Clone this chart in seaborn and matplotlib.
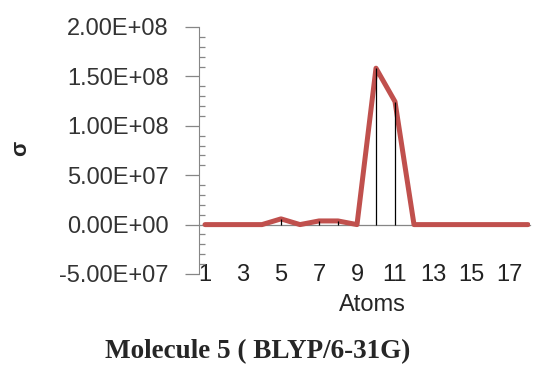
import numpy as np
import pandas as pd
import seaborn as sns
import matplotlib.pyplot as plt
from matplotlib.ticker import MultipleLocator

# data
atoms = list(range(1, 19))
sigma = [0, 0, 0, 0, 5.8e6, 0, 3.7e6, 3.7e6, 0,
         1.583e8, 1.245e8, 0, 0, 0, 0, 0, 0, 0]
y_ticks = [-5e7, 0, 5e7, 1e8, 1.5e8, 2e8]
y_tick_labels = ["-5.00E+07", "0.00E+00", "5.00E+07", "1.00E+08", "1.50E+08", "2.00E+08"]
x_tick_values = atoms[::2]

df = pd.DataFrame({"Atoms": atoms, "sigma": sigma})

sns.set_style("white")
plt.rcParams["font.family"] = ["Liberation Sans", "DejaVu Sans"]

fig = plt.figure(figsize=(5.34, 3.68), dpi=100)
ax = fig.add_axes([199 / 534, 94 / 368, 331 / 534, 247 / 368])

# drop lines
ax.vlines(df["Atoms"], 0, df["sigma"], color="black", lw=0.9, zorder=4)
sns.lineplot(data=df, x="Atoms", y="sigma", color="#C0504D", lw=3.6, ax=ax, zorder=3)

ax.set_xlim(1 - 6 / 19, 18 + 2 / 19)
ax.set_ylim(-5e7, 2e8)

# y axis
ax.set_yticks(y_ticks)
ax.set_yticklabels(y_tick_labels)
ax.yaxis.set_minor_locator(MultipleLocator(1e7))
ax.tick_params(axis="y", which="major", direction="out", length=10, width=0.9,
               color="#868686", labelsize=17, labelcolor="#333333", pad=12, left=True)
ax.tick_params(axis="y", which="minor", direction="in", length=4, width=0.9,
               color="#868686", left=True)

# x axis crossing at zero, labels at the bottom
ax.spines["left"].set_color("#868686")
ax.spines["bottom"].set_position(("data", 0))
ax.spines["bottom"].set_color("#868686")
ax.spines["bottom"].set_linewidth(0.9)
ax.spines["right"].set_visible(False)
ax.spines["top"].set_visible(False)
ax.set_xticks(x_tick_values)
ax.set_xticklabels([str(v) for v in x_tick_values])
ax.tick_params(axis="x", length=0, labelsize=17, labelcolor="#222222")
for lbl in ax.get_xticklabels():
    lbl.set_transform(ax.get_xaxis_transform())
    lbl.set_y(-0.005)
    lbl.set_verticalalignment("center")

ax.set_xlabel("Atoms", fontsize=17)
ax.xaxis.set_label_coords(0.523, -0.1255)
ax.xaxis.label.set_verticalalignment("center")
ax.set_ylabel("σ", fontsize=16, fontweight="bold")
ax.yaxis.set_label_coords(-0.539, 0.51)
ax.yaxis.label.set_verticalalignment("center")

fig.text(258 / 534, 1 - 352 / 368, "Molecule 5 ( BLYP/6-31G)", ha="center", va="center",
         fontsize=19.5, fontweight="bold", family=["Liberation Serif", "DejaVu Serif"])

fig.savefig("out.png", dpi=100)
